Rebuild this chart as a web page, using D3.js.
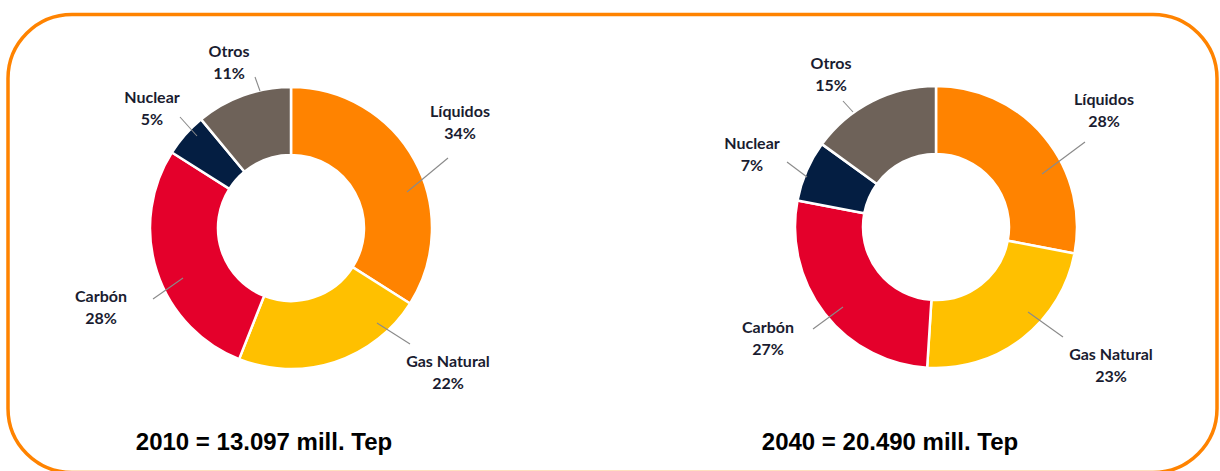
<!DOCTYPE html>
<html>
<head>
<meta charset="utf-8">
<script src="https://cdn.jsdelivr.net/npm/d3@7"></script>
<style>
  html, body { margin: 0; padding: 0; background: #fff; }
  svg { display: block; }
  .lbl { font-family: Lato, "Open Sans", sans-serif; font-weight: 700; fill: #1a1c30; }
  .total { font-family: "Liberation Sans", Arial, sans-serif; font-weight: 700; fill: #000; }
</style>
</head>
<body>
<svg id="chart" width="1220" height="471"></svg>
<script>
// Energy sources, clockwise from 12 o'clock
const categories = ["Líquidos", "Gas Natural", "Carbón", "Nuclear", "Otros"];
const values2010 = [34, 22, 28, 5, 11];
const values2040 = [28, 23, 27, 7, 15];
const totals = ["2010 = 13.097 mill. Tep", "2040 = 20.490 mill. Tep"];

const colors = d3.scaleOrdinal()
  .domain(categories)
  .range(["#ff8300", "#ffc000", "#e4002b", "#041e42", "#6e6259"]);

// Label placement per chart: text centre (dx, first baseline dy) and leader line ends, relative to the donut centre
const layouts = [
  {
    cx: 291, cy: 228,
    labels: [
      { tx: 169, ty: -111, l: [[157, -70], [116, -36]] },
      { tx: 157, ty: 139, l: [[119, 116], [86, 95]] },
      { tx: -190, ty: 74, l: [[-138, 71], [-108, 50]] },
      { tx: -139, ty: -125, l: [[-111, -111], [-94, -92]] },
      { tx: -62, ty: -171, l: [[-36, -151], [-31, -137]] }
    ]
  },
  {
    cx: 936, cy: 227,
    labels: [
      { tx: 168, ty: -122, l: [[149, -85], [106, -53]] },
      { tx: 175, ty: 133, l: [[127, 110], [92, 85]] },
      { tx: -168, ty: 106, l: [[-123, 102], [-93, 80]] },
      { tx: -184, ty: -78, l: [[-149, -65], [-129, -50]] },
      { tx: -105, ty: -158, l: [[-93, -126], [-83, -115]] }
    ]
  }
];

const svg = d3.select("#chart");

// Rounded orange frame
svg.append("rect")
  .attr("x", 8).attr("y", 14.5)
  .attr("width", 1209).attr("height", 458)
  .attr("rx", 64).attr("ry", 64)
  .attr("fill", "none")
  .attr("stroke", "#ff8300")
  .attr("stroke-width", 3.5);

const outerR = 141, innerR = 73;
const pie = d3.pie().sort(null).value(d => d.value);
const arc = d3.arc().innerRadius(innerR).outerRadius(outerR);

[values2010, values2040].forEach((vals, i) => {
  const lay = layouts[i];
  const g = svg.append("g").attr("transform", `translate(${lay.cx},${lay.cy})`);
  const data = categories.map((c, k) => ({ name: c, value: vals[k] }));
  const arcs = pie(data);

  g.selectAll("path.slice")
    .data(arcs)
    .join("path")
    .attr("class", "slice")
    .attr("d", arc)
    .attr("fill", d => colors(d.data.name))
    .attr("stroke", "#fff")
    .attr("stroke-width", 2.5)
    .attr("stroke-linejoin", "miter");

  // Leader lines
  g.selectAll("line.leader")
    .data(arcs)
    .join("line")
    .attr("class", "leader")
    .attr("x1", (d, k) => lay.labels[k].l[0][0])
    .attr("y1", (d, k) => lay.labels[k].l[0][1])
    .attr("x2", (d, k) => lay.labels[k].l[1][0])
    .attr("y2", (d, k) => lay.labels[k].l[1][1])
    .attr("stroke", "#8a8a8a")
    .attr("stroke-width", 1.1);

  // Category name and percentage
  const t = g.selectAll("text.lbl")
    .data(arcs)
    .join("text")
    .attr("class", "lbl")
    .attr("text-anchor", "middle")
    .attr("font-size", 16)
    .attr("x", (d, k) => lay.labels[k].tx)
    .attr("y", (d, k) => lay.labels[k].ty);
  t.append("tspan").text(d => d.data.name);
  t.append("tspan")
    .attr("x", (d, k) => lay.labels[k].tx)
    .attr("dy", 21.5)
    .text(d => d.data.value + "%");

  // Total under the donut
  svg.append("text")
    .attr("class", "total")
    .attr("x", i === 0 ? 264 : 890)
    .attr("y", 450)
    .attr("text-anchor", "middle")
    .attr("font-size", 24)
    .text(totals[i]);
});
</script>
</body>
</html>
